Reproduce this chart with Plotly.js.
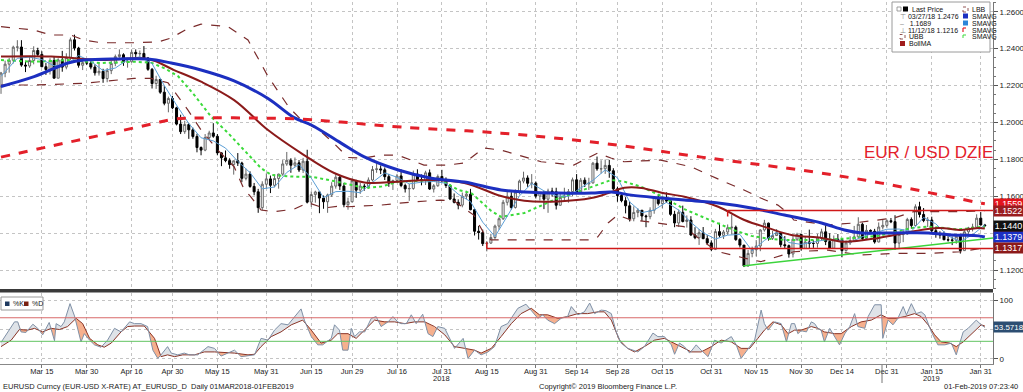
<!DOCTYPE html>
<html><head><meta charset="utf-8">
<script src="https://cdn.plot.ly/plotly-3.0.1.min.js"></script>
<style>html,body{margin:0;padding:0;background:#fff;}#chart{width:1023px;height:392px;}</style>
</head><body><div id="chart"></div>
<script>
// ---------- DATA ----------
const openPx = [
1.2193,1.2268,1.2316,1.2337,1.2408,1.2409,1.2311,1.2306,1.2336,1.2390,
1.2369,1.2302,1.2287,1.2336,1.2240,1.2339,1.2300,1.2353,1.2448,1.2403,
1.2310,1.2324,1.2322,1.2300,1.2269,1.2277,1.2238,1.2281,1.2320,1.2357,
1.2367,1.2327,1.2329,1.2380,1.2372,1.2374,1.2349,1.2288,1.2211,1.2233,
1.2164,1.2104,1.2130,1.2079,1.1991,1.1950,1.1989,1.1960,1.1924,1.1864,
1.1850,1.1918,1.1943,1.1925,1.1835,1.1808,1.1793,1.1772,1.1792,1.1780,
1.1697,1.1720,1.1653,1.1624,1.1538,1.1665,1.1694,1.1659,1.1696,1.1720,
1.1775,1.1795,1.1768,1.1781,1.1742,1.1790,1.1568,1.1609,1.1623,1.1590,
1.1570,1.1607,1.1655,1.1703,1.1655,1.1554,1.1570,1.1684,1.1633,1.1655,
1.1652,1.1688,1.1745,1.1748,1.1743,1.1706,1.1671,1.1685,1.1710,1.1658,
1.1640,1.1642,1.1720,1.1691,1.1685,1.1727,1.1639,1.1657,1.1707,1.1691,
1.1658,1.1585,1.1567,1.1552,1.1600,1.1611,1.1527,1.1410,1.1403,1.1343,
1.1346,1.1376,1.1438,1.1478,1.1567,1.1600,1.1539,1.1622,1.1682,1.1699,
1.1670,1.1671,1.1601,1.1621,1.1584,1.1628,1.1624,1.1551,1.1594,1.1601,
1.1625,1.1689,1.1623,1.1687,1.1667,1.1672,1.1779,1.1748,1.1749,1.1767,
1.1738,1.1640,1.1604,1.1576,1.1548,1.1478,1.1512,1.1524,1.1493,1.1489,
1.1524,1.1595,1.1560,1.1580,1.1575,1.1502,1.1455,1.1513,1.1463,1.1471,
1.1390,1.1375,1.1402,1.1370,1.1347,1.1312,1.1408,1.1388,1.1406,1.1429,
1.1432,1.1365,1.1335,1.1222,1.1290,1.1310,1.1330,1.1417,1.1454,1.1372,
1.1387,1.1401,1.1337,1.1332,1.1287,1.1367,1.1393,1.1317,1.1352,1.1344,
1.1344,1.1373,1.1407,1.1354,1.1318,1.1367,1.1364,1.1305,1.1347,1.1360,
1.1380,1.1448,1.1371,1.1415,1.1410,1.1352,1.1433,1.1442,1.1467,1.1462,
1.1346,1.1392,1.1395,1.1474,1.1441,1.1543,1.1501,1.1468,1.1471,1.1413,
1.1397,1.1390,1.1364,1.1363,1.1361,1.1383,1.1305,1.1407,1.1428,1.1432,
1.1481,1.1444];
const highPx = [
1.2274,1.2335,1.2350,1.2416,1.2446,1.2446,1.2332,1.2356,1.2413,1.2405,
1.2386,1.2322,1.2348,1.2356,1.2348,1.2388,1.2375,1.2460,1.2476,1.2410,
1.2339,1.2336,1.2345,1.2315,1.2320,1.2291,1.2295,1.2335,1.2368,1.2396,
1.2375,1.2350,1.2396,1.2396,1.2390,1.2414,1.2355,1.2295,1.2253,1.2237,
1.2197,1.2140,1.2144,1.2085,1.2042,1.2009,1.1996,1.1972,1.1939,1.1870,
1.1937,1.1955,1.1996,1.1937,1.1838,1.1848,1.1806,1.1793,1.1834,1.1787,
1.1750,1.1735,1.1672,1.1640,1.1681,1.1724,1.1712,1.1718,1.1722,1.1796,
1.1840,1.1806,1.1810,1.1796,1.1808,1.1852,1.1626,1.1630,1.1628,1.1604,
1.1614,1.1676,1.1719,1.1715,1.1672,1.1592,1.1696,1.1689,1.1673,1.1667,
1.1702,1.1764,1.1791,1.1767,1.1756,1.1721,1.1690,1.1721,1.1745,1.1668,
1.1667,1.1739,1.1746,1.1718,1.1738,1.1745,1.1666,1.1718,1.1743,1.1702,
1.1666,1.1615,1.1583,1.1620,1.1630,1.1640,1.1531,1.1439,1.1419,1.1357,
1.1396,1.1446,1.1486,1.1580,1.1623,1.1622,1.1637,1.1690,1.1733,1.1713,
1.1720,1.1680,1.1622,1.1627,1.1641,1.1646,1.1646,1.1611,1.1646,1.1639,
1.1701,1.1720,1.1699,1.1702,1.1700,1.1786,1.1815,1.1795,1.1799,1.1797,
1.1752,1.1652,1.1621,1.1595,1.1572,1.1545,1.1535,1.1525,1.1500,1.1540,
1.1600,1.1609,1.1600,1.1621,1.1580,1.1521,1.1528,1.1549,1.1496,1.1492,
1.1432,1.1422,1.1433,1.1389,1.1361,1.1423,1.1456,1.1417,1.1447,1.1500,
1.1441,1.1373,1.1335,1.1309,1.1327,1.1362,1.1421,1.1472,1.1457,1.1412,
1.1422,1.1404,1.1384,1.1338,1.1389,1.1402,1.1396,1.1380,1.1419,1.1361,
1.1396,1.1424,1.1443,1.1399,1.1387,1.1395,1.1370,1.1360,1.1383,1.1439,
1.1486,1.1457,1.1444,1.1420,1.1423,1.1458,1.1475,1.1474,1.1482,1.1497,
1.1400,1.1420,1.1483,1.1485,1.1556,1.1570,1.1536,1.1487,1.1489,1.1431,
1.1410,1.1409,1.1385,1.1381,1.1395,1.1396,1.1416,1.1434,1.1451,1.1502,
1.1514,1.1450];
const lowPx = [
1.2155,1.2245,1.2270,1.2320,1.2385,1.2302,1.2273,1.2296,1.2315,1.2357,
1.2300,1.2258,1.2260,1.2239,1.2240,1.2275,1.2288,1.2337,1.2390,1.2297,
1.2284,1.2311,1.2288,1.2254,1.2254,1.2215,1.2218,1.2262,1.2305,1.2351,
1.2307,1.2297,1.2325,1.2345,1.2355,1.2343,1.2280,1.2184,1.2182,1.2155,
1.2093,1.2055,1.2072,1.1984,1.1937,1.1938,1.1911,1.1912,1.1838,1.1822,
1.1844,1.1907,1.1917,1.1822,1.1763,1.1784,1.1749,1.1717,1.1764,1.1676,
1.1686,1.1646,1.1605,1.1510,1.1523,1.1641,1.1617,1.1648,1.1641,1.1711,
1.1765,1.1727,1.1759,1.1731,1.1726,1.1561,1.1542,1.1565,1.1508,1.1532,
1.1510,1.1596,1.1641,1.1634,1.1540,1.1527,1.1567,1.1591,1.1613,1.1630,
1.1640,1.1680,1.1727,1.1720,1.1688,1.1651,1.1634,1.1682,1.1649,1.1620,
1.1575,1.1635,1.1682,1.1659,1.1661,1.1634,1.1620,1.1651,1.1673,1.1645,
1.1579,1.1561,1.1529,1.1540,1.1584,1.1524,1.1387,1.1365,1.1330,1.1301,
1.1341,1.1365,1.1418,1.1471,1.1550,1.1528,1.1533,1.1610,1.1670,1.1651,
1.1643,1.1588,1.1577,1.1530,1.1510,1.1598,1.1528,1.1550,1.1574,1.1565,
1.1601,1.1617,1.1620,1.1650,1.1634,1.1669,1.1738,1.1723,1.1721,1.1700,
1.1632,1.1570,1.1567,1.1507,1.1463,1.1464,1.1486,1.1465,1.1432,1.1475,
1.1505,1.1550,1.1535,1.1564,1.1494,1.1432,1.1433,1.1458,1.1430,1.1384,
1.1367,1.1336,1.1367,1.1339,1.1302,1.1308,1.1377,1.1368,1.1390,1.1392,
1.1358,1.1322,1.1216,1.1218,1.1269,1.1274,1.1302,1.1408,1.1359,1.1363,
1.1384,1.1323,1.1315,1.1267,1.1268,1.1357,1.1305,1.1315,1.1317,1.1320,
1.1321,1.1362,1.1335,1.1313,1.1314,1.1354,1.1269,1.1300,1.1336,1.1356,
1.1370,1.1357,1.1365,1.1398,1.1343,1.1350,1.1420,1.1429,1.1454,1.1309,
1.1315,1.1351,1.1391,1.1424,1.1439,1.1485,1.1459,1.1433,1.1405,1.1375,
1.1370,1.1362,1.1354,1.1335,1.1342,1.1289,1.1305,1.1396,1.1409,1.1427,
1.1443,1.1435];
const closePx = [
1.2268,1.2316,1.2337,1.2408,1.2409,1.2311,1.2306,1.2336,1.2390,1.2369,
1.2302,1.2287,1.2336,1.2240,1.2339,1.2300,1.2353,1.2448,1.2403,1.2310,
1.2324,1.2322,1.2300,1.2269,1.2277,1.2238,1.2281,1.2320,1.2357,1.2367,
1.2327,1.2329,1.2380,1.2372,1.2374,1.2349,1.2288,1.2211,1.2233,1.2164,
1.2104,1.2130,1.2079,1.1991,1.1950,1.1989,1.1960,1.1924,1.1864,1.1850,
1.1918,1.1943,1.1925,1.1835,1.1808,1.1793,1.1772,1.1792,1.1780,1.1697,
1.1720,1.1653,1.1624,1.1538,1.1665,1.1694,1.1659,1.1696,1.1720,1.1775,
1.1795,1.1768,1.1781,1.1742,1.1790,1.1568,1.1609,1.1623,1.1590,1.1570,
1.1607,1.1655,1.1703,1.1655,1.1554,1.1570,1.1684,1.1633,1.1655,1.1652,
1.1688,1.1745,1.1748,1.1743,1.1706,1.1671,1.1685,1.1710,1.1658,1.1640,
1.1642,1.1720,1.1691,1.1685,1.1727,1.1639,1.1657,1.1707,1.1691,1.1658,
1.1585,1.1567,1.1552,1.1600,1.1611,1.1527,1.1410,1.1403,1.1343,1.1346,
1.1376,1.1438,1.1478,1.1567,1.1600,1.1539,1.1622,1.1682,1.1699,1.1670,
1.1671,1.1601,1.1621,1.1584,1.1628,1.1624,1.1551,1.1594,1.1601,1.1625,
1.1689,1.1623,1.1687,1.1667,1.1672,1.1779,1.1748,1.1749,1.1767,1.1738,
1.1640,1.1604,1.1576,1.1548,1.1478,1.1512,1.1524,1.1493,1.1489,1.1524,
1.1595,1.1560,1.1580,1.1575,1.1502,1.1455,1.1513,1.1463,1.1471,1.1390,
1.1375,1.1402,1.1370,1.1347,1.1312,1.1408,1.1388,1.1406,1.1429,1.1432,
1.1365,1.1335,1.1222,1.1290,1.1310,1.1330,1.1417,1.1454,1.1372,1.1387,
1.1401,1.1337,1.1332,1.1287,1.1367,1.1393,1.1317,1.1352,1.1344,1.1344,
1.1373,1.1407,1.1354,1.1318,1.1367,1.1364,1.1305,1.1347,1.1360,1.1380,
1.1448,1.1371,1.1415,1.1410,1.1352,1.1433,1.1442,1.1467,1.1462,1.1346,
1.1392,1.1395,1.1474,1.1441,1.1543,1.1501,1.1468,1.1471,1.1413,1.1397,
1.1390,1.1364,1.1363,1.1361,1.1383,1.1305,1.1407,1.1428,1.1432,1.1481,
1.1444,1.1440];

// moving averages / bands (trading-day position, value)
const smaBlueDay = [0,8.1,16.4,20.3,28.7,36,41.7,49,57.1,65.4,71.8,76,83.3,89,97.3,105.4,113.5,122.5,128.2,136.5,144.6,149.5,154.4,161.8,167.4,175.7,183.8,191.9,201,206.6,210.8,218.9,227.2,232.8,239.5,241];
const smaBlueVal = [1.2195,1.2248,1.2322,1.2338,1.2344,1.2344,1.2322,1.2284,1.2225,1.2130,1.2026,1.1986,1.1888,1.1813,1.1742,1.1698,1.1677,1.1634,1.1623,1.1617,1.1617,1.1623,1.1606,1.1590,1.1579,1.1563,1.1536,1.1498,1.1455,1.1417,1.1401,1.1401,1.1401,1.1390,1.1385,1.1379];
const bollMaDay = [0,12.3,24.5,36,42.4,49,57.1,65.4,73.5,81.6,89,97.3,105.4,113.5,122.5,128.2,136.5,144.6,148.8,152.7,156.9,161.8,167.4,175.7,182.1,188,193.6,201,206.6,215,223,229.7,235.3,239.5,241];
const bollMaVal = [1.2357,1.2357,1.2338,1.2344,1.2284,1.2221,1.2121,1.1959,1.1834,1.1726,1.1675,1.1679,1.1688,1.1672,1.1601,1.1575,1.1572,1.1590,1.1617,1.1646,1.1645,1.1619,1.1597,1.1543,1.1471,1.1427,1.1390,1.1374,1.1353,1.1374,1.1408,1.1428,1.1417,1.1428,1.1425];
const smaRedDay = [0,12.3,24.5,36.8,42.4,49,61.3,73.5,83.3,98,122.5,147,171.6,199.3,215.7,230.4,240.2,241];
const smaRedVal = [1.1812,1.1872,1.1931,1.1991,1.2018,1.2024,1.2024,1.2018,1.2002,1.1975,1.1942,1.1888,1.1812,1.1731,1.1671,1.1606,1.1562,1.1559];
const smaGreenDay = [0,8.1,16.4,24.5,32.6,36.8,40.4,43.4,47.3,51.5,55.6,59.6,63.7,66.2,71.8,76,81.6,89,93.1,97.3,107.8,112,115.2,120.1,122.5,128.2,132.4,136.5,140.4,144.6,149.5,152.7,156.9,161.8,167.4,171.6,175.7,179.7,183.8,188,191.9,200.2,206.6,215,218.9,223,227.2,231.1,234.6,239.5,241];
const smaGreenVal = [1.2338,1.2329,1.2338,1.2322,1.2329,1.2324,1.2290,1.2250,1.2150,1.2030,1.1943,1.1850,1.1752,1.1715,1.1706,1.1706,1.1682,1.1645,1.1652,1.1679,1.1688,1.1634,1.1617,1.1520,1.1488,1.1509,1.1552,1.1590,1.1617,1.1651,1.1688,1.1679,1.1651,1.1600,1.1530,1.1490,1.1450,1.1415,1.1385,1.1370,1.1363,1.1363,1.1370,1.1385,1.1405,1.1428,1.1435,1.1428,1.1420,1.1432,1.1435];
const smaLightDay = [0,2,4,7,10,13,16,19,22,25,28,31,34,37,40,43,46,49,52,55,58,61,64,67,70,73,76,79,82,85,88,91,94,97,100,103,106,109,112,115,118,121,124,127,130,133,136,139,142,145,148,151,154,157,160,163,166,169,172,175,178,181,184,187,190,193,196,199,202,205,208,211,214,217,220,223,226,229,232,235,238,241];
const smaLightVal = [1.2250,1.2300,1.2348,1.2354,1.2341,1.2307,1.2314,1.2363,1.2332,1.2281,1.2295,1.2340,1.2356,1.2319,1.2200,1.2094,1.1994,1.1917,1.1900,1.1861,1.1789,1.1728,1.1640,1.1650,1.1729,1.1772,1.1698,1.1592,1.1625,1.1627,1.1619,1.1675,1.1726,1.1703,1.1667,1.1676,1.1680,1.1670,1.1611,1.1571,1.1459,1.1381,1.1492,1.1602,1.1669,1.1629,1.1602,1.1599,1.1645,1.1686,1.1743,1.1700,1.1569,1.1511,1.1525,1.1567,1.1525,1.1458,1.1402,1.1368,1.1389,1.1393,1.1304,1.1360,1.1406,1.1349,1.1339,1.1350,1.1364,1.1362,1.1349,1.1381,1.1399,1.1421,1.1422,1.1410,1.1485,1.1450,1.1385,1.1355,1.1391,1.1445];
const ubbDay = [0,8.1,12.2,17.1,20.3,24.5,32.6,38.5,41.6,45.8,49.0,55.6,60.5,65.4,70.5,73.5,78.4,81.6,85.0,88.9,93.1,97.2,103.6,109.5,113.4,118.3,122.5,124.9,132.3,140.3,144.5,146.2,149.4,152.6,161.6,169.0,177.1,182.0,186.1,190.3,192.8,194.2,202.5,208.9,218.7,223.6,235.1,240.0,241];
const ubbVal = [1.2519,1.2501,1.2474,1.2474,1.2447,1.2432,1.2432,1.2437,1.2457,1.2510,1.2533,1.2519,1.2447,1.2250,1.2083,1.2015,1.1950,1.1885,1.1810,1.1807,1.1823,1.1823,1.1769,1.1769,1.1780,1.1861,1.1850,1.1834,1.1787,1.1769,1.1814,1.1834,1.1807,1.1787,1.1796,1.1760,1.1679,1.1634,1.1590,1.1552,1.1509,1.1471,1.1444,1.1455,1.1482,1.1516,1.1516,1.1522,1.1522];
const lbbDay = [0,8.1,20.3,24.5,32.6,36.7,40.9,45.8,49.0,53.1,57.1,59.5,61.2,63.7,66.9,71.8,75.2,79.1,83.3,85.0,93.1,101.2,107.8,110.9,115.8,118.3,120.0,122.5,136.4,144.5,146.2,148.7,151.1,154.3,159.2,167.3,171.4,175.6,182.0,186.1,194.2,202.5,210.6,218.7,227.0,235.1,240.0,241];
const lbbVal = [1.2203,1.2203,1.2212,1.2221,1.2239,1.2239,1.2215,1.2067,1.1959,1.1850,1.1760,1.1640,1.1597,1.1525,1.1516,1.1530,1.1565,1.1536,1.1548,1.1543,1.1552,1.1570,1.1579,1.1575,1.1498,1.1398,1.1363,1.1363,1.1363,1.1363,1.1380,1.1455,1.1498,1.1471,1.1460,1.1435,1.1363,1.1300,1.1265,1.1245,1.1299,1.1308,1.1281,1.1290,1.1290,1.1299,1.1317,1.1317];

// drawn levels
const supportLevel = 1.1317, supportFromDay = 119, supportTick = 1.1350;
const resistLevel = 1.1522, resistFromDay = 178, resistTick = 1.1490;
const trendDays = [181.8, 243];
const trendVals = [1.1222, 1.1373];

// stochastic
const kDay = [0,1.6,3.3,4.1,4.9,6.1,7.8,9.0,10.2,11.8,13.1,13.5,14.7,15.5,16.9,18.0,19.6,20.4,21.7,22.9,24.5,26.1,27.8,29.4,31.5,32.7,34.3,35.9,37.2,38.4,39.2,40.8,41.7,43.3,44.9,46.2,48.2,50.7,52.3,53.9,55.6,57.2,58.8,60.5,62.1,63.7,65.4,67.0,68.6,70.3,71.9,73.5,74.3,76.0,77.6,78.8,80.9,81.7,82.9,83.7,85.0,85.8,86.6,87.8,89.1,90.7,91.9,93.1,94.8,96.0,97.2,98.0,99.3,100.5,101.7,103.3,104.6,105.8,107.0,108.7,111.1,113.2,114.4,116.0,117.6,119.3,120.9,122.5,124.1,126.6,128.6,129.9,131.5,132.7,133.9,135.6,137.2,138.8,139.7,141.3,142.9,144.2,145.4,147.0,148.2,149.5,150.7,151.9,153.5,154.8,156.0,157.6,159.7,160.9,162.5,164.2,165.0,166.2,167.4,168.7,170.3,171.5,173.2,174.8,176.4,178.9,180.1,181.3,183.0,184.6,186.2,187.0,187.9,189.5,191.1,192.4,193.6,194.4,195.2,196.0,197.3,198.5,199.3,200.1,200.9,201.7,203.0,204.2,205.4,206.7,207.9,209.1,209.9,211.6,212.4,214.0,215.6,216.0,217.3,218.5,219.7,221.0,221.8,223.0,224.2,225.4,226.3,227.9,229.5,231.2,232.8,234.0,234.8,235.7,236.9,238.1,238.9,240.1,241];
const kVal = [28,46,63,63,46,45,59,52,41,62,31,60,55,63,94,73,29,43,32,24,20,32,52,46,63,60,60,55,15,1,7,21,10,7,10,7,7,21,18,5,10,15,4,5,7,35,32,49,60,58,72,85,66,38,24,24,35,58,49,15,15,52,38,46,46,69,72,55,63,72,63,60,60,75,60,76,43,38,55,52,18,35,1,15,7,12,21,55,60,86,93,83,69,75,66,60,69,72,89,75,80,95,77,83,82,77,46,27,18,15,12,21,44,38,38,24,8,27,21,10,24,15,4,32,27,38,24,1,18,32,83,60,49,63,60,29,60,60,43,48,46,63,60,52,49,29,52,38,24,43,55,77,55,52,72,92,92,35,66,58,69,89,75,94,77,80,75,46,24,24,27,7,27,46,52,60,66,58,53.6];
const dDay = [0,2.5,4.5,6.5,8.2,10.2,12.3,14.3,16.3,18.4,20.0,21.7,23.7,25.3,27.0,29.4,31.0,32.7,35.1,37.6,39.2,40.8,42.5,44.5,47.4,49.8,52.3,54.7,57.2,60.5,62.1,63.7,66.2,68.6,71.1,73.9,76.0,78.4,80.9,82.5,85.0,87.0,89.1,91.5,94.0,96.4,98.9,101.3,103.8,106.2,108.7,111.1,113.6,116.0,117.6,120.1,122.5,125.0,127.4,129.9,131.9,133.9,136.4,138.8,141.3,143.7,146.2,147.8,149.5,151.5,153.5,155.2,157.6,160.1,162.5,164.2,166.6,169.1,171.5,174.0,176.4,178.9,181.3,183.4,185.4,187.0,189.1,191.1,192.8,194.4,196.0,198.5,200.1,201.7,204.2,205.8,208.3,210.7,213.2,215.6,217.3,219.3,221.4,223.8,225.4,227.1,228.7,230.3,232.4,234.0,235.7,237.7,240.1,241];
const dVal = [21,32,50,49,52,46,52,50,55,69,60,35,24,20,27,46,55,56,56,35,4,7,4,7,7,12,12,11,10,7,8,21,38,46,58,66,49,27,32,43,43,35,49,66,63,63,60,63,63,55,41,21,18,15,10,18,38,60,77,86,75,75,69,72,77,77,80,80,66,32,18,12,21,32,35,29,21,12,12,21,32,29,18,18,35,49,63,58,43,49,49,55,52,46,43,43,55,63,66,75,69,69,72,77,72,58,41,29,27,21,29,43,58,56];

// axis labels
const tickDates = ['2018-03-15','2018-03-30','2018-04-16','2018-04-30','2018-05-15','2018-05-31','2018-06-15','2018-06-29','2018-07-16','2018-07-31','2018-08-15','2018-08-31','2018-09-14','2018-09-28','2018-10-15','2018-10-31','2018-11-15','2018-11-30','2018-12-14','2018-12-31','2019-01-15','2019-01-31'];
const tickLabels = ['Mar 15','Mar 30','Apr 16','Apr 30','May 15','May 31','Jun 15','Jun 29','Jul 16','Jul 31','Aug 15','Aug 31','Sep 14','Sep 28','Oct 15','Oct 31','Nov 15','Nov 30','Dec 14','Dec 31','Jan 15','Jan 31'];
const yearLabels = [{d:'2018-07-31', t:'2018'}, {d:'2019-01-15', t:'2019'}];
const priceTicks = [1.12,1.14,1.16,1.18,1.20,1.22,1.24,1.26];
const priceTickText = ['1.1200','1.1400','1.1600','1.1800','1.2000','1.2200','1.2400','1.2600'];
// last-value tags (the BollMA tag sits hidden behind the last-price tag)
const priceTags = [
  {v:1.1559, t:'1.1559', c:'#e3141c'},
  {v:1.1522, t:'1.1522', c:'#9a1c1f'},
  {v:1.1411, t:'', c:'#8c1a1a'},
  {v:1.1379, t:'1.1379', c:'#1a30c4'},
  {v:1.1440, t:'1.1440', c:'#111111'},
  {v:1.1317, t:'1.1317', c:'#8c1a1a'}];
const stochTag = {v:53.5718, t:'53.5718'};

// ---------- BUILD ----------
function weekdays(a, b) {
  const out = []; const d = new Date(a + 'T00:00:00Z'); const e = new Date(b + 'T00:00:00Z');
  while (d <= e) { const w = d.getUTCDay(); if (w !== 0 && w !== 6) out.push(d.toISOString().slice(0,10)); d.setUTCDate(d.getUTCDate()+1); }
  return out;
}
const dates = weekdays('2018-03-01','2019-02-01');
const xIdx = dates.map((d,i)=>i);
const tickIdx = tickDates.map(d=>dates.indexOf(d));

const FONT = 'Liberation Sans, Arial, sans-serif';
const PW = 993, PT = 2, PH = 362;
const px = x => x / PW;
const py = y => (PT + PH - y) / PH;

function interp(xs, ys, x) {
  if (x <= xs[0]) return ys[0];
  for (let i = 1; i < xs.length; i++) if (x <= xs[i]) { const t = (x - xs[i-1]) / (xs[i] - xs[i-1]); return ys[i-1] + t*(ys[i]-ys[i-1]); }
  return ys[ys.length-1];
}
const U = Array.from(new Set(kDay.concat(dDay))).sort((a,b)=>a-b);
const kk = U.map(x=>interp(kDay,kVal,x)), dd = U.map(x=>interp(dDay,dVal,x));
const FX=[], FK=[], FD=[];
for (let i=0;i<U.length;i++){
  FX.push(U[i]); FK.push(kk[i]); FD.push(dd[i]);
  if (i<U.length-1){ const a=kk[i]-dd[i], b=kk[i+1]-dd[i+1];
    if (a*b<0){ const t=a/(a-b); const xc=U[i]+t*(U[i+1]-U[i]); const yc=kk[i]+t*(kk[i+1]-kk[i]); FX.push(xc); FK.push(yc); FD.push(yc);} }
}
const FM = FK.map((k,i)=>Math.max(k,FD[i]));

const noHover = {hoverinfo:'skip', showlegend:false};
const traces = [
  Object.assign({type:'scatter', x:FX, y:FD, xaxis:'x2', yaxis:'y2', mode:'lines', line:{width:0, color:'rgba(0,0,0,0)'}}, noHover),
  Object.assign({type:'scatter', x:FX, y:FM, xaxis:'x2', yaxis:'y2', mode:'lines', line:{width:0, color:'rgba(0,0,0,0)'}, fill:'tonexty', fillcolor:'#dfe3e8'}, noHover),
  Object.assign({type:'scatter', x:FX, y:FK, xaxis:'x2', yaxis:'y2', mode:'lines', line:{width:0, color:'rgba(0,0,0,0)'}}, noHover),
  Object.assign({type:'scatter', x:FX, y:FM, xaxis:'x2', yaxis:'y2', mode:'lines', line:{width:0, color:'rgba(0,0,0,0)'}, fill:'tonexty', fillcolor:'#f6b08e'}, noHover),
  Object.assign({type:'scatter', x:dDay, y:dVal, xaxis:'x2', yaxis:'y2', mode:'lines', line:{width:1, color:'#8a3426'}}, noHover),
  Object.assign({type:'scatter', x:kDay, y:kVal, xaxis:'x2', yaxis:'y2', mode:'lines', line:{width:1, color:'#7f90a6'}}, noHover),

  Object.assign({type:'candlestick', x:xIdx, open:openPx, high:highPx, low:lowPx, close:closePx, xaxis:'x', yaxis:'y',
    increasing:{line:{color:'#666666', width:1}, fillcolor:'#ffffff'},
    decreasing:{line:{color:'#000000', width:1}, fillcolor:'#000000'}, whiskerwidth:0}, noHover),
  Object.assign({type:'scatter', x:ubbDay, y:ubbVal, mode:'lines', line:{width:1.2, color:'#7a2b2b', dash:'dash'}}, noHover),
  Object.assign({type:'scatter', x:lbbDay, y:lbbVal, mode:'lines', line:{width:1.2, color:'#7a2b2b', dash:'dash'}}, noHover),
  Object.assign({type:'scatter', x:smaGreenDay, y:smaGreenVal, mode:'lines', line:{width:2, color:'#3ada3a', dash:'dot'}}, noHover),
  Object.assign({type:'scatter', x:smaLightDay, y:smaLightVal, mode:'lines', line:{width:1, color:'#5c9fd6'}}, noHover),
  Object.assign({type:'scatter', x:bollMaDay, y:bollMaVal, mode:'lines', line:{width:2, color:'#8b1a1a', shape:'spline'}}, noHover),
  Object.assign({type:'scatter', x:smaBlueDay, y:smaBlueVal, mode:'lines', line:{width:3, color:'#1c2fc0', shape:'spline'}}, noHover),
  Object.assign({type:'scatter', x:smaRedDay, y:smaRedVal, mode:'lines', line:{width:3, color:'#e3202a', dash:'dash', shape:'spline'}}, noHover),
  Object.assign({type:'scatter', x:trendDays, y:trendVals, mode:'lines', line:{width:1.5, color:'#3cd43c'}}, noHover)
];

const shapes = [
  {type:'line', xref:'x', yref:'y', x0:supportFromDay, x1:243.5, y0:supportLevel, y1:supportLevel, line:{color:'#d01818', width:1.5}},
  {type:'line', xref:'x', yref:'y', x0:supportFromDay, x1:supportFromDay, y0:supportLevel, y1:supportTick, line:{color:'#d01818', width:1.5}},
  {type:'line', xref:'x', yref:'y', x0:resistFromDay, x1:243.5, y0:resistLevel, y1:resistLevel, line:{color:'#d01818', width:1.5}},
  {type:'line', xref:'x', yref:'y', x0:resistFromDay, x1:resistFromDay, y0:resistLevel, y1:resistTick, line:{color:'#d01818', width:1.5}},
  {type:'line', xref:'paper', yref:'y2', x0:0, x1:1, y0:70, y1:70, line:{color:'#d86a6a', width:1}},
  {type:'line', xref:'paper', yref:'y2', x0:0, x1:1, y0:30, y1:30, line:{color:'#62c462', width:1}},
  {type:'rect', xref:'paper', yref:'paper', x0:0, x1:1, y0:py(292.5), y1:py(289), fillcolor:'#3a3a3a', line:{width:0}},
  {type:'line', xref:'paper', yref:'paper', x0:px(882), x1:px(882), y0:py(365), y1:py(383), line:{color:'#777', width:1}},
  // top legend box
  {type:'rect', xref:'paper', yref:'paper', x0:px(892), x1:px(990), y0:py(52), y1:py(2), fillcolor:'#ffffff', line:{color:'#9a9a9a', width:1}},
  {type:'rect', xref:'paper', yref:'paper', x0:px(897), x1:px(901), y0:py(11), y1:py(7), fillcolor:'#ffffff', line:{color:'#888', width:0.8}},
  {type:'rect', xref:'paper', yref:'paper', x0:px(903), x1:px(908), y0:py(11.5), y1:py(6.5), fillcolor:'#000', line:{width:0}},
  {type:'rect', xref:'paper', yref:'paper', x0:px(900), x1:px(905), y0:py(39), y1:py(34.5), fillcolor:'rgba(0,0,0,0)', line:{color:'#7a2b2b', width:0.8, dash:'dot'}},
  {type:'rect', xref:'paper', yref:'paper', x0:px(900), x1:px(905), y0:py(46), y1:py(41), fillcolor:'#a01c1c', line:{width:0}},
  {type:'rect', xref:'paper', yref:'paper', x0:px(963), x1:px(968), y0:py(12), y1:py(7), fillcolor:'rgba(0,0,0,0)', line:{color:'#7a2b2b', width:0.8, dash:'dot'}},
  {type:'rect', xref:'paper', yref:'paper', x0:px(963), x1:px(968), y0:py(18.5), y1:py(13.5), fillcolor:'#1c2fc0', line:{width:0}},
  {type:'rect', xref:'paper', yref:'paper', x0:px(963), x1:px(968), y0:py(25.5), y1:py(20.5), fillcolor:'#2d86d8', line:{width:0}},
  {type:'line', xref:'paper', yref:'paper', x0:px(963), x1:px(968), y0:py(28), y1:py(28), line:{color:'#e3202a', width:1.2, dash:'dot'}},
  {type:'line', xref:'paper', yref:'paper', x0:px(963), x1:px(963), y0:py(28), y1:py(32), line:{color:'#e3202a', width:1.2}},
  {type:'line', xref:'paper', yref:'paper', x0:px(963), x1:px(968), y0:py(35), y1:py(35), line:{color:'#3ada3a', width:1, dash:'dot'}},
  {type:'line', xref:'paper', yref:'paper', x0:px(963), x1:px(963), y0:py(35), y1:py(39), line:{color:'#3ada3a', width:1, dash:'dot'}},
  // stochastic legend box
  {type:'rect', xref:'paper', yref:'paper', x0:px(1), x1:px(43), y0:py(310), y1:py(297), fillcolor:'#ffffff', line:{color:'#9a9a9a', width:1}},
  {type:'rect', xref:'paper', yref:'paper', x0:px(5), x1:px(9.5), y0:py(306), y1:py(301.5), fillcolor:'#1f3a60', line:{width:0}},
  {type:'rect', xref:'paper', yref:'paper', x0:px(24), x1:px(28.5), y0:py(306), y1:py(301.5), fillcolor:'#7a2010', line:{width:0}}
];

const annotations = [];
function txt(x, y, t, opt) {
  annotations.push(Object.assign({xref:'paper', yref:'paper', x:px(x), y:py(y), text:t, showarrow:false, xanchor:'left', yanchor:'middle',
    font:{family:FONT, size:7, color:'#111'}}, opt||{}));
}
// top legend
txt(910, 9, 'Last Price');
txt(898, 16, '<span style="color:#888">⊤</span> 03/27/18 1.2476');
txt(898, 23, '<span style="color:#888">–</span>   1.1689');
txt(898, 30, '<span style="color:#888">⊥</span> 11/12/18 1.1216');
txt(907, 36.7, 'UBB');
txt(907, 43.5, 'BollMA');
txt(970, 9.5, 'LBB');
txt(970, 16, 'SMAVG');
txt(970, 23, 'SMAVG');
txt(970, 30, 'SMAVG');
txt(970, 36.7, 'SMAVG');
// stochastic legend
txt(11, 303.8, '%K', {font:{family:FONT, size:7, color:'#222'}});
txt(30, 303.8, '%D', {font:{family:FONT, size:7, color:'#222'}});
// footer
txt(1, 386.5, 'EURUSD Curncy (EUR-USD X-RATE) AT_EURUSD_D  Daily 01MAR2018-01FEB2019', {font:{family:FONT, size:7.5, color:'#222'}});
txt(537, 386.5, 'Copyright© 2019 Bloomberg Finance L.P.', {font:{family:FONT, size:7.5, color:'#222'}});
txt(1020, 386.5, '01-Feb-2019 07:23:40', {xanchor:'right', font:{family:FONT, size:7.5, color:'#222'}});
// year labels
yearLabels.forEach(o => annotations.push({xref:'x2', yref:'paper', x:dates.indexOf(o.d), y:py(378.5), text:o.t, showarrow:false,
  xanchor:'center', yanchor:'middle', font:{family:FONT, size:7.5, color:'#222'}}));
// EUR/USD text
annotations.push({xref:'paper', yref:'paper', x:px(862), y:py(152), text:'EUR / USD DZIE', showarrow:false, xanchor:'left', yanchor:'middle',
  font:{family:FONT, size:17, color:'#e3202a'}});
// price tags
priceTags.forEach(o => annotations.push({xref:'paper', yref:'y', x:1, y:o.v, text:o.t || ' ', showarrow:false, xanchor:'left', yanchor:'middle',
  width:29, height:10, bgcolor:o.c, borderpad:0, align:'center', font:{family:FONT, size:9, color:'#ffffff'}}));
annotations.push({xref:'paper', yref:'y2', x:1, y:stochTag.v, text:stochTag.t, showarrow:false, xanchor:'left', yanchor:'middle',
  width:30, height:10, bgcolor:'#2c4e72', borderpad:0, align:'center', font:{family:FONT, size:8, color:'#ffffff'}});

const gridCommon = {gridcolor:'#c4c4c4', griddash:'dot', gridwidth:1, zeroline:false};
const layout = {
  width:1023, height:392, margin:{l:0, r:30, t:2, b:28}, paper_bgcolor:'#ffffff', plot_bgcolor:'#ffffff',
  showlegend:false, font:{family:FONT, size:8, color:'#222'},
  xaxis:Object.assign({domain:[0,1], anchor:'y', range:[-0.25,243.0], tickmode:'array', tickvals:tickIdx, showticklabels:false, ticks:'',
    showgrid:true, rangeslider:{visible:false}, showline:false, fixedrange:true}, gridCommon),
  xaxis2:Object.assign({domain:[0,1], anchor:'y2', range:[-0.25,243.0], tickmode:'array', tickvals:tickIdx, ticktext:tickLabels,
    ticks:'outside', ticklen:3, tickcolor:'#777', showline:true, linecolor:'#888', showgrid:true, ticklabelstandoff:-3,
    tickfont:{family:FONT, size:7.5, color:'#222'}}, gridCommon),
  yaxis:Object.assign({domain:[py(289),1], anchor:'x', side:'right', range:[1.1097,1.2653], tickmode:'array', tickvals:priceTicks, ticktext:priceTickText,
    ticks:'outside', ticklen:4, tickcolor:'#555', showline:true, linecolor:'#777', showgrid:true,
    tickfont:{family:FONT, size:8, color:'#222'}, minor:{dtick:0.005, tick0:1.12, ticks:'outside', ticklen:2, tickcolor:'#777', showgrid:false}}, gridCommon),
  yaxis2:Object.assign({domain:[0,py(293)], anchor:'x2', side:'right', range:[-8.5,112], tickmode:'array', tickvals:[0,50,100], ticktext:['0','','100'],
    ticks:'outside', ticklen:4, tickcolor:'#555', showline:true, linecolor:'#777', showgrid:true,
    tickfont:{family:FONT, size:8, color:'#222'}}, gridCommon),
  shapes:shapes, annotations:annotations
};
Plotly.newPlot('chart', traces, layout, {staticPlot:true, displayModeBar:false});
</script></body></html>
